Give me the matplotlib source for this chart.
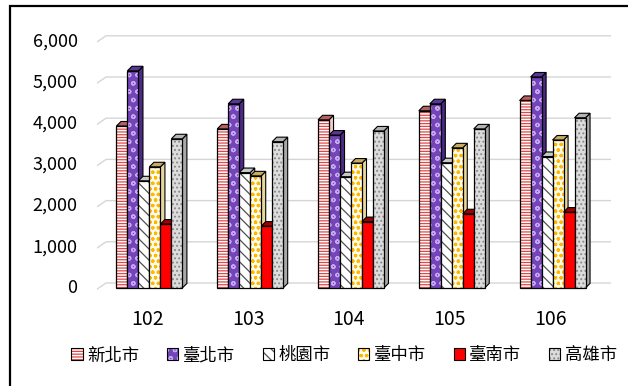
import matplotlib
matplotlib.use('Agg')
import matplotlib.pyplot as plt
from matplotlib.patches import Polygon, Rectangle
from matplotlib.legend_handler import HandlerTuple

plt.rcParams['font.family'] = ['Noto Sans CJK TC', 'DejaVu Sans']
plt.rcParams['hatch.linewidth'] = 0.9

years = ['102', '103', '104', '105', '106']
cities = ['新北市', '臺北市', '桃園市', '臺中市', '臺南市', '高雄市']

xinbei   = [3930, 3860, 4080, 4300, 4550]
taipei   = [5270, 4470, 3710, 4470, 5120]
taoyuan  = [2600, 2800, 2700, 3040, 3190]
taichung = [2940, 2720, 3030, 3400, 3590]
tainan   = [1550, 1500, 1610, 1800, 1840]
kaohsiung = [3620, 3550, 3810, 3860, 4130]
series = [xinbei, taipei, taoyuan, taichung, tainan, kaohsiung]

# (face, hatch, hatch colour, side, top)
styles = [
    ('#ffffff', '------', '#e04848', '#f2c8c8', '#b86060'),
    ('#7444b8', 'oo',     '#c4aaf0', '#4c2a86', '#5a3698'),
    ('#ffffff', '\\\\\\', '#505050', '#d0d0d0', '#c8c8c8'),
    ('#fffdf0', 'ooo',    '#ffb800', '#e8d8a0', '#c8aa60'),
    ('#ff0000', None,     None,      '#c00000', '#a00000'),
    ('#dcdcdc', '....',   '#8a8a8a', '#a8a8a8', '#b4b4b4'),
]

W, H = 628, 386
fig = plt.figure(figsize=(W / 100, H / 100), dpi=100)

# axes placement in pixels
px_left, px_right = 97, 611
y0_px, px_per_unit = 283, 0.0412
ymin, ymax = -300, 6300
ax_bot = H - (y0_px - px_per_unit * ymin)
ax_top = H - (y0_px - px_per_unit * ymax)
ax = fig.add_axes([px_left / W, ax_bot / H, (px_right - px_left) / W, (ax_top - ax_bot) / H])
ax.set_xlim(-0.5, 4.6)
ax.set_ylim(ymin, ymax)
for s in ax.spines.values():
    s.set_visible(False)

# back-wall gridlines with a short slanted foot
off = 120     # front plane shift
depth = 110   # bar depth (vertical)
dx = 0.045    # bar depth (horizontal)
for v in range(0, 6001, 1000):
    ax.plot([-0.5, -0.41, 4.6], [v - 150, v, v], color='#d6d6d6', lw=1.0, zorder=0)
    ax.annotate(f'{v:,}', xy=(-0.5, v - 130), xytext=(-14, 0), textcoords='offset points',
                ha='right', va='center', fontsize=13, annotation_clip=False)

bw = 0.109
shift = 0.02
nb = len(series)
for j, vals in enumerate(series):
    face, hatch, hcol, side, top = styles[j]
    xs = [i + shift + (j - (nb - 1) / 2) * bw for i in range(len(years))]
    z = 2 + j
    # front face
    ax.bar(xs, vals, bw, bottom=-off, color=face, edgecolor=hcol if hatch else face,
           hatch=hatch, linewidth=0, zorder=z)
    ax.bar(xs, vals, bw, bottom=-off, fill=False, edgecolor='black', linewidth=0.9, zorder=z + 0.2)
    for x, v in zip(xs, vals):
        xl, xr = x - bw / 2, x + bw / 2
        yb, yt = -off, v - off
        sp = Polygon([(xr, yb), (xr + dx, yb + depth), (xr + dx, yt + depth), (xr, yt)],
                     closed=True, facecolor=side, edgecolor='black', lw=0.8, zorder=z - 0.1)
        tp = Polygon([(xl, yt), (xr, yt), (xr + dx, yt + depth), (xl + dx, yt + depth)],
                     closed=True, facecolor=top, edgecolor='black', lw=0.8, zorder=z - 0.1)
        ax.add_patch(sp)
        ax.add_patch(tp)

ax.set_xticks(range(len(years)))
ax.set_xticklabels(years, fontsize=14)
ax.tick_params(axis='x', length=0, pad=10)
ax.set_yticks([])

handles = []
for face, hatch, hcol, side, top in styles:
    a = Rectangle((0, 0), 1, 1, facecolor=face, edgecolor=hcol if hatch else face,
                  hatch=hatch, linewidth=0)
    b = Rectangle((0, 0), 1, 1, fill=False, edgecolor='black', linewidth=0.8)
    handles.append((a, b))
fig.legend(handles, cities, handler_map={tuple: HandlerTuple(ndivide=1, pad=0)},
           loc='center', bbox_to_anchor=(0.548, 1 - 355 / H), ncol=6, frameon=False,
           fontsize=12.5, handlelength=0.65, handleheight=0.7, handletextpad=0.25,
           columnspacing=1.6)

# outer frame
fig.add_artist(Rectangle((10 / W, -0.1), 1.2, (H - 6) / H + 0.1, transform=fig.transFigure,
                         fill=False, edgecolor='black', lw=1.6))

fig.savefig('out.png', dpi=100)
